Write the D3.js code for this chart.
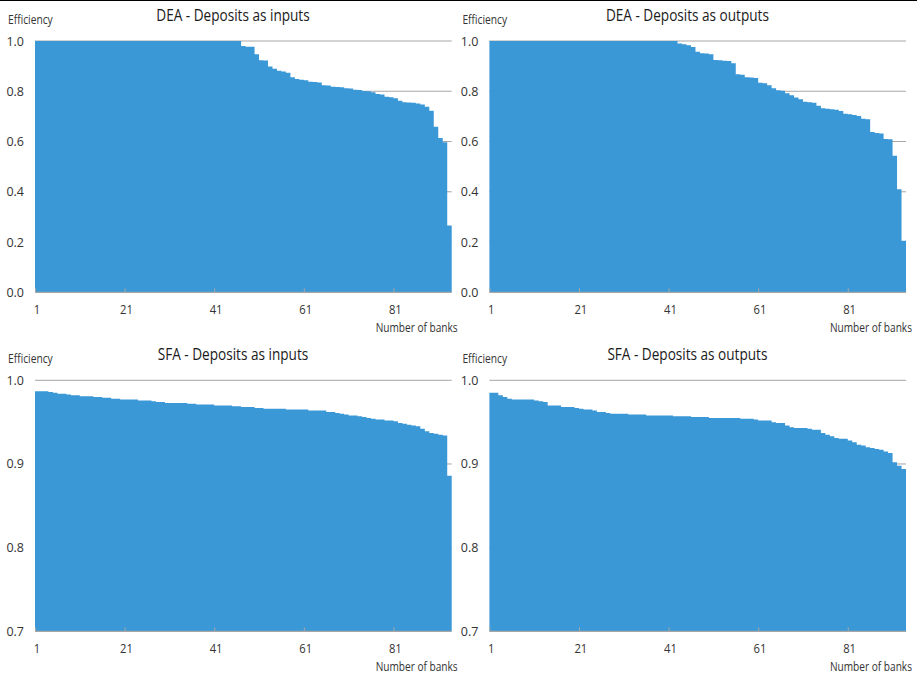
<!DOCTYPE html>
<html>
<head>
<meta charset="utf-8">
<script src="https://cdn.jsdelivr.net/npm/d3@7/dist/d3.min.js"></script>
<style>
  body { margin: 0; background: #fff; }
  svg text { font-family: "Open Sans", sans-serif; }
</style>
</head>
<body>
<svg id="chart" width="917" height="674"></svg>
<script>
// efficiency scores per bank, sorted high to low
const deaInputs = [
  1, 1, 1, 1, 1, 1, 1, 1, 1, 1,
  1, 1, 1, 1, 1, 1, 1, 1, 1, 1,
  1, 1, 1, 1, 1, 1, 1, 1, 1, 1,
  1, 1, 1, 1, 1, 1, 1, 1, 1, 1,
  1, 1, 1, 1, 1, 1,
  0.980, 0.977, 0.977, 0.947, 0.923, 0.922, 0.899, 0.890, 0.882, 0.879,
  0.874, 0.856, 0.849, 0.846, 0.844, 0.838, 0.837, 0.835, 0.824, 0.823,
  0.818, 0.817, 0.816, 0.812, 0.811, 0.806, 0.805, 0.801, 0.800, 0.796,
  0.789, 0.787, 0.778, 0.776, 0.772, 0.762, 0.756, 0.755, 0.754, 0.751,
  0.747, 0.738, 0.722, 0.659, 0.614, 0.597, 0.266
];

const deaOutputs = [
  1, 1, 1, 1, 1, 1, 1, 1, 1, 1,
  1, 1, 1, 1, 1, 1, 1, 1, 1, 1,
  1, 1, 1, 1, 1, 1, 1, 1, 1, 1,
  1, 1, 1, 1, 1, 1, 1, 1, 1, 1,
  1, 1,
  0.990, 0.987, 0.983, 0.976, 0.957, 0.951, 0.950, 0.947,
  0.924, 0.923, 0.921, 0.920, 0.911, 0.868, 0.866, 0.856, 0.855, 0.853,
  0.834, 0.832, 0.824, 0.812, 0.804, 0.802, 0.792, 0.784, 0.775, 0.768,
  0.758, 0.756, 0.754, 0.742, 0.732, 0.730, 0.728, 0.726, 0.721, 0.711,
  0.709, 0.706, 0.702, 0.691, 0.689, 0.638, 0.634, 0.632, 0.610, 0.609,
  0.543, 0.410, 0.205
];

const sfaInputs = [
  0.987, 0.987, 0.987, 0.986, 0.985, 0.984, 0.984, 0.983, 0.982, 0.982,
  0.981, 0.981, 0.981, 0.980, 0.980, 0.979, 0.979, 0.978, 0.978, 0.977,
  0.977, 0.977, 0.977, 0.976, 0.976, 0.976, 0.975, 0.974, 0.974, 0.973,
  0.973, 0.973, 0.973, 0.973, 0.972, 0.972, 0.971, 0.971, 0.971, 0.971,
  0.970, 0.970, 0.970, 0.970, 0.969, 0.969, 0.968, 0.968, 0.968, 0.967,
  0.967, 0.966, 0.966, 0.966, 0.966, 0.966, 0.965, 0.965, 0.965, 0.965,
  0.965, 0.964, 0.964, 0.964, 0.964, 0.962, 0.962, 0.961, 0.960, 0.959,
  0.958, 0.958, 0.957, 0.956, 0.955, 0.954, 0.953, 0.953, 0.952, 0.952,
  0.951, 0.949, 0.948, 0.947, 0.946, 0.945, 0.942, 0.939, 0.937, 0.936,
  0.935, 0.934, 0.886
];

const sfaOutputs = [
  0.985, 0.985, 0.982, 0.980, 0.978, 0.977, 0.977, 0.977, 0.977, 0.977,
  0.976, 0.975, 0.974, 0.970, 0.970, 0.970, 0.968, 0.968, 0.968, 0.967,
  0.966, 0.965, 0.965, 0.964, 0.962, 0.962, 0.961, 0.960, 0.960, 0.960,
  0.960, 0.959, 0.959, 0.959, 0.959, 0.958, 0.958, 0.958, 0.958, 0.958,
  0.958, 0.957, 0.957, 0.957, 0.957, 0.956, 0.956, 0.956, 0.956, 0.955,
  0.955, 0.955, 0.955, 0.955, 0.955, 0.955, 0.954, 0.954, 0.954, 0.953,
  0.952, 0.952, 0.952, 0.950, 0.949, 0.949, 0.946, 0.944, 0.943, 0.943,
  0.943, 0.942, 0.941, 0.941, 0.937, 0.935, 0.933, 0.931, 0.930, 0.930,
  0.928, 0.926, 0.923, 0.922, 0.920, 0.919, 0.918, 0.917, 0.915, 0.913,
  0.902, 0.898, 0.894
];

const titles = [
  "DEA - Deposits as inputs",
  "DEA - Deposits as outputs",
  "SFA - Deposits as inputs",
  "SFA - Deposits as outputs"
];
const xTicks = [1, 21, 41, 61, 81];
const deaTicks = [0, 0.2, 0.4, 0.6, 0.8, 1.0];
const sfaTicks = [0.7, 0.8, 0.9, 1.0];
const yLabel = "Efficiency";
const xLabel = "Number of banks";

const fill = "#3a98d7";
const grid = "#a6a6a6";
const labelColor = "#333";

const panels = [
  {title: titles[0], values: deaInputs, domain: [0, 1], ticks: deaTicks, left: 35, right: 451.7, top: 41, bottom: 292.3},
  {title: titles[1], values: deaOutputs, domain: [0, 1], ticks: deaTicks, left: 489.4, right: 906, top: 41, bottom: 292.3},
  {title: titles[2], values: sfaInputs, domain: [0.7, 1], ticks: sfaTicks, left: 35, right: 451.7, top: 380.3, bottom: 631.3},
  {title: titles[3], values: sfaOutputs, domain: [0.7, 1], ticks: sfaTicks, left: 489.4, right: 906, top: 380.3, bottom: 631.3}
];

const svg = d3.select("#chart");

// thin rule across the top
svg.append("line")
  .attr("x1", 0).attr("x2", 917)
  .attr("y1", 0.5).attr("y2", 0.5)
  .attr("stroke", "#000").attr("stroke-width", 1);

panels.forEach(p => {
  const data = p.values.map((v, i) => ({bank: i + 1, v: v}));
  // closing point so the last step gets its full width
  data.push({bank: data.length + 1, v: p.values[p.values.length - 1]});

  const x = d3.scaleLinear().domain([1, data.length]).range([p.left, p.right]);
  const y = d3.scaleLinear().domain(p.domain).range([p.bottom, p.top]);
  const g = svg.append("g");

  g.selectAll(".grid")
    .data(p.ticks.slice(1))
    .enter().append("line")
    .attr("class", "grid")
    .attr("x1", p.left).attr("x2", p.right)
    .attr("y1", d => y(d)).attr("y2", d => y(d))
    .attr("stroke", grid).attr("stroke-width", 1);

  const area = d3.area()
    .curve(d3.curveStepAfter)
    .x(d => x(d.bank))
    .y0(y(p.domain[0]))
    .y1(d => y(d.v));

  g.append("path")
    .datum(data)
    .attr("d", area)
    .attr("fill", fill);

  // x axis: small upward ticks, labels below
  const xAxis = g.append("g")
    .attr("transform", `translate(0,${y(p.domain[0])})`)
    .call(d3.axisBottom(x).tickValues(xTicks).tickSize(-4).tickPadding(13));
  xAxis.select(".domain").remove();
  xAxis.selectAll(".tick line").attr("stroke", grid);
  xAxis.selectAll(".tick text")
    .attr("fill", labelColor)
    .attr("font-size", 12.5)
    .attr("x", 1.5)
    .attr("transform", "scale(0.9,1)");

  g.append("line")
    .attr("x1", p.left).attr("x2", p.right)
    .attr("y1", y(p.domain[0])).attr("y2", y(p.domain[0]))
    .attr("stroke", grid).attr("stroke-width", 1.2);

  const yAxis = g.append("g")
    .attr("transform", `translate(${p.left},0)`)
    .call(d3.axisLeft(y).tickValues(p.ticks).tickFormat(d3.format(".1f")).tickSize(0).tickPadding(11));
  yAxis.select(".domain").remove();
  yAxis.selectAll(".tick text")
    .attr("fill", labelColor)
    .attr("font-size", 12.5);

  g.append("text")
    .attr("transform", `translate(${p.left + 198},${p.top - 20.3}) scale(0.85,1)`)
    .attr("text-anchor", "middle")
    .attr("font-size", 16)
    .attr("fill", "#1a1a1a")
    .text(p.title);

  g.append("text")
    .attr("transform", `translate(${p.left - 27},${p.top - 17}) scale(0.82,1)`)
    .attr("font-size", 12.5)
    .attr("fill", labelColor)
    .text(yLabel);

  g.append("text")
    .attr("transform", `translate(${p.right + 6},${p.bottom + 39.4}) scale(0.81,1)`)
    .attr("text-anchor", "end")
    .attr("font-size", 12.5)
    .attr("fill", labelColor)
    .text(xLabel);
});
</script>
</body>
</html>
